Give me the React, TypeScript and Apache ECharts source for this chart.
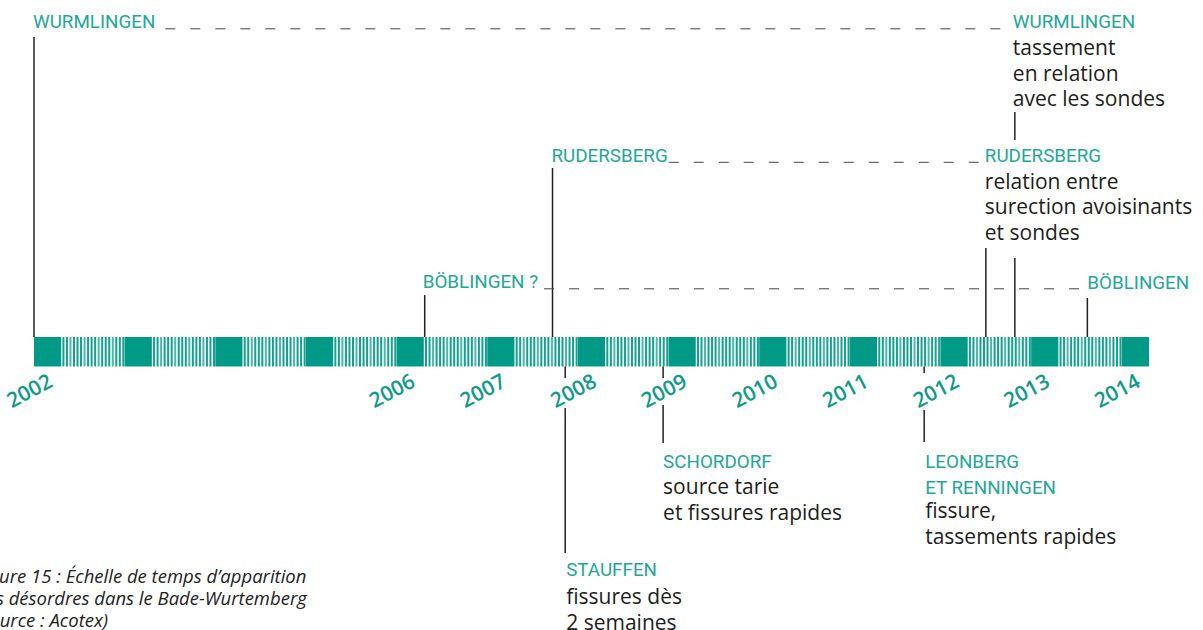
import React, { useEffect, useRef } from 'react';
import * as echarts from 'echarts';

// ---------- DATA ----------
const years = [2002, 2003, 2004, 2005, 2006, 2007, 2008, 2009, 2010, 2011, 2012, 2013, 2014];
const labelYears = [2002, 2006, 2007, 2008, 2009, 2010, 2011, 2012, 2013, 2014];

const eventYears = [2002.0, 2006.31, 2007.72, 2007.86, 2008.94, 2011.82, 2012.5, 2012.82, 2013.62];
const eventTitles = [
  'WURMLINGEN',
  'BÖBLINGEN ?',
  'RUDERSBERG',
  'STAUFFEN',
  'SCHORDORF',
  'LEONBERG\nET RENNINGEN',
  'RUDERSBERG',
  'WURMLINGEN',
  'BÖBLINGEN',
];
const eventNotes = [
  '',
  '',
  '',
  'fissures dès\n2 semaines',
  'source tarie\net fissures rapides',
  'fissure,\ntassements rapides',
  'relation entre\nsurection avoisinants\net sondes',
  'tassement\nen relation\navec les sondes',
  '',
];
// [first occurrence, later occurrence]
const recurrenceLinks = [
  [0, 7],
  [1, 8],
  [2, 6],
];
const captionLines = [
  'Figure 15 : Échelle de temps d’apparition',
  'des désordres dans le Bade-Wurtemberg',
  '(source : Acotex)',
];

// ---------- STYLE / LAYOUT ----------
const BAR_TEAL = '#009a87';
const LABEL_TEAL = '#22a898';
const YEAR_TEAL = '#0f9a89';
const INK = '#1d1d1b';
const LINE_COLOR = '#222222';
const TITLE_FONT_FAMILY = 'Roboto';
const TITLE_SIZE = 18.8;
const NOTE_SIZE = 21;
const BLOCK_FRACTION = 0.3;
const STRIPES = 18;

// pixel layout of each event's annotation (y positions of lines & texts)
const eventLayout = [
  { dx: -1, titleY: 22, noteY: 0, gap: 10, segs: [[37, 337]] },
  { dx: -2, titleY: 282, noteY: 0, gap: 6, segs: [[295, 337]] },
  { dx: -1, titleY: 155.5, noteY: 0, gap: 1, segs: [[168, 337]] },
  { dx: 1, titleY: 570, noteY: 596, gap: 0, segs: [[366.5, 378], [408, 553]] },
  { dx: 0, titleY: 462, noteY: 486, gap: 0, segs: [[366.5, 378], [405, 443]] },
  { dx: 1, titleY: 461.7, noteY: 510, gap: 0, segs: [[366.5, 373], [410, 442]] },
  { dx: -1, titleY: 155.5, noteY: 180.5, gap: 0, segs: [[248, 337]] },
  { dx: -2, titleY: 22, noteY: 47, gap: 0, segs: [[112, 140], [258, 337]] },
  { dx: 0, titleY: 282.5, noteY: 0, gap: 0, segs: [[298, 337]] },
];
const TITLE_LH = 26.5;
const NOTE_LH = 25.5;

export default function App() {
  const ref = useRef<HTMLDivElement>(null);

  useEffect(() => {
    if (!ref.current) return;
    const chart = echarts.init(ref.current, null, { renderer: 'svg' });
    const cv = document.createElement('canvas').getContext('2d') as CanvasRenderingContext2D;
    cv.font = `400 ${TITLE_SIZE}px ${TITLE_FONT_FAMILY}`;
    const measure = (s: string) => cv.measureText(s).width;

    const option: any = {
      animation: false,
      backgroundColor: '#ffffff',
      grid: { left: 34, right: 54, top: 337, height: 29.5 },
      xAxis: {
        type: 'value',
        min: 2002,
        max: 2014.3,
        axisLine: { show: false },
        axisTick: { show: false },
        splitLine: { show: false },
        axisLabel: {
          customValues: labelYears,
          formatter: (v: number) => String(v),
          rotate: 28,
          align: 'center',
          verticalAlign: 'middle',
          margin: 21,
          padding: [0, 11, 0, 0],
          color: YEAR_TEAL,
          fontSize: 21,
          fontWeight: 600,
          fontFamily: 'Open Sans',
        },
      },
      yAxis: { type: 'value', min: 0, max: 1, show: false },
      graphic: [
        {
          type: 'text',
          x: -24,
          y: 564,
          style: {
            text: captionLines.join('\n'),
            fill: '#222',
            fontStyle: 'italic',
            fontSize: 18.5,
            fontFamily: 'Open Sans',
            lineHeight: 22,
            verticalAlign: 'top',
            align: 'left',
          },
        },
      ],
      series: [
        {
          type: 'custom',
          name: 'timeline',
          data: years.map((y) => [y]),
          encode: { x: 0 },
          renderItem: (params: any, api: any) => {
            const v = api.value(0);
            const [x0, yb] = api.coord([v, 0]);
            const yt = api.coord([v, 1])[1];
            const xb = api.coord([v + BLOCK_FRACTION, 0])[0];
            const children: any[] = [
              { type: 'rect', shape: { x: x0, y: yt, width: xb - x0, height: yb - yt }, style: { fill: BAR_TEAL } },
            ];
            if (v < years[years.length - 1]) {
              const xe = api.coord([v + 1, 0])[0];
              const p = (xe - xb) / STRIPES;
              for (let k = 0; k < STRIPES; k++) {
                children.push({
                  type: 'rect',
                  shape: { x: xb + k * p + 1.2, y: yt, width: p - 1.5, height: yb - yt },
                  style: { fill: BAR_TEAL, opacity: k % 4 === 2 ? 0.7 : 0.92 },
                });
              }
            }
            return { type: 'group', children };
          },
        },
        {
          type: 'custom',
          name: 'events',
          data: eventYears.map((y, i) => [y, i]),
          encode: { x: 0 },
          renderItem: (params: any, api: any) => {
            const i = params.dataIndex;
            const x = api.coord([api.value(0), 0])[0];
            const L = eventLayout[i];
            const children: any[] = [];
            L.segs.forEach(([y1, y2]) => {
              children.push({
                type: 'line',
                shape: { x1: x, y1, x2: x, y2 },
                style: { stroke: LINE_COLOR, lineWidth: 1.5 },
              });
            });
            eventTitles[i].split('\n').forEach((t, k) => {
              children.push({
                type: 'text',
                x: x + L.dx,
                y: L.titleY + k * TITLE_LH,
                style: {
                  text: t,
                  fill: LABEL_TEAL,
                  fontSize: TITLE_SIZE,
                  fontFamily: TITLE_FONT_FAMILY,
                  fontWeight: 400,
                  align: 'left',
                  verticalAlign: 'middle',
                },
              });
            });
            if (eventNotes[i]) {
              eventNotes[i].split('\n').forEach((t, k) => {
                children.push({
                  type: 'text',
                  x: x + L.dx,
                  y: L.noteY + k * NOTE_LH,
                  style: {
                    text: t,
                    fill: INK,
                    fontSize: NOTE_SIZE,
                    fontFamily: 'Open Sans',
                    align: 'left',
                    verticalAlign: 'middle',
                  },
                });
              });
            }
            return { type: 'group', children };
          },
        },
        {
          type: 'custom',
          name: 'links',
          data: recurrenceLinks.map(([a, b]) => [eventYears[a], eventYears[b], a, b]),
          encode: { x: [0, 1] },
          renderItem: (params: any, api: any) => {
            const [a, b] = recurrenceLinks[params.dataIndex];
            const xa = api.coord([api.value(0), 0])[0];
            const xb = api.coord([api.value(1), 0])[0];
            const La = eventLayout[a];
            const Lb = eventLayout[b];
            const startX = xa + La.dx + measure(eventTitles[a]) + La.gap;
            const endX = xb + Lb.dx - 2;
            const y = La.titleY + 6.8;
            return {
              type: 'line',
              shape: { x1: startX, y1: y, x2: endX, y2: y },
              style: { stroke: '#444', lineWidth: 1, lineDash: [10, 15] },
            };
          },
        },
      ],
    };
    chart.setOption(option);
    return () => chart.dispose();
  }, []);

  return <div ref={ref} style={{ position: 'absolute', left: 0, top: 0, width: 1203, height: 630 }} />;
}
